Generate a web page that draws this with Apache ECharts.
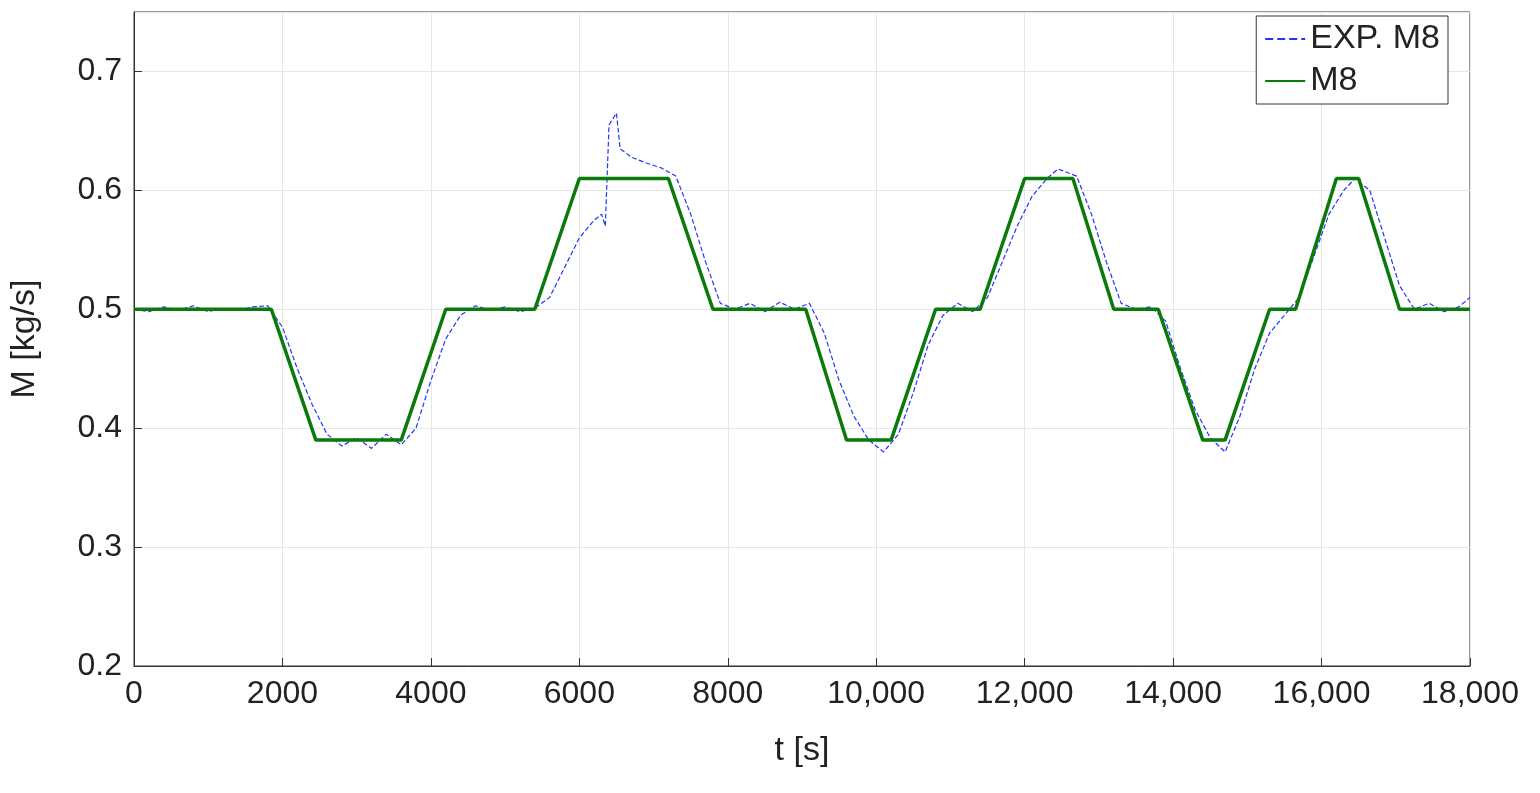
<!DOCTYPE html><html><head><meta charset="utf-8"><script src="https://cdn.jsdelivr.net/npm/echarts@6/dist/echarts.min.js"></script>
<style>body{margin:0;background:#fff}#c{width:1540px;height:793px}</style></head><body><div id="c"></div><script>
const modelT=[0,1850,2450,3600,4200,5400,6000,7200,7800,9050,9600,10200,10800,11400,12000,12650,13200,13800,14400,14700,15300,15650,16200,16500,17050,18000];
const modelM=[0.5,0.5,0.39,0.39,0.5,0.5,0.61,0.61,0.5,0.5,0.39,0.39,0.5,0.5,0.61,0.61,0.5,0.5,0.39,0.39,0.5,0.5,0.61,0.61,0.5,0.5];
const expT=[0,200,400,600,800,1000,1200,1400,1600,1800,2000,2200,2400,2600,2800,3000,3200,3400,3600,3800,4000,4200,4400,4600,4800,5000,5200,5400,5600,5800,6000,6200,6300,6350,6400,6500,6550,6700,6900,7100,7300,7500,7700,7900,8100,8300,8500,8700,8900,9100,9300,9500,9700,9900,10100,10300,10500,10700,10900,11100,11300,11500,11700,11900,12100,12300,12450,12700,12900,13100,13300,13500,13700,13900,14100,14300,14500,14700,14900,15100,15300,15500,15700,15900,16100,16300,16450,16650,16850,17050,17250,17450,17650,17850,18000];
const expM=[0.5,0.498,0.502,0.499,0.503,0.498,0.501,0.499,0.502,0.503,0.485,0.45,0.42,0.395,0.385,0.392,0.383,0.395,0.386,0.4,0.44,0.475,0.495,0.503,0.499,0.502,0.498,0.501,0.51,0.535,0.56,0.575,0.58,0.57,0.655,0.665,0.635,0.628,0.623,0.619,0.612,0.58,0.54,0.505,0.5,0.505,0.498,0.506,0.5,0.505,0.48,0.44,0.41,0.39,0.38,0.395,0.43,0.47,0.495,0.505,0.498,0.51,0.54,0.57,0.595,0.61,0.618,0.612,0.58,0.54,0.505,0.5,0.502,0.49,0.45,0.415,0.392,0.38,0.41,0.45,0.48,0.495,0.51,0.545,0.58,0.6,0.61,0.6,0.56,0.52,0.5,0.505,0.498,0.502,0.51];
const z=(a,b)=>a.map((v,i)=>[v,b[i]]);
const ch=echarts.init(document.getElementById('c'));
const ax={color:'#222',fontSize:32,fontFamily:'Liberation Sans'};
ch.setOption({animation:false,
grid:{left:133,right:70,top:12,bottom:127,show:true,borderColor:'#333',borderWidth:1},
legend:{right:92,top:16,orient:'vertical',backgroundColor:'#fff',borderColor:'#333',borderWidth:1,padding:[6,8],itemGap:8,itemWidth:40,itemStyle:{opacity:0},textStyle:{...ax,fontSize:34},
 data:['EXP. M8','M8']},
xAxis:{type:'value',min:0,max:18000,interval:2000,name:'t [s]',nameLocation:'middle',nameGap:68,nameTextStyle:{...ax,fontSize:34},
 axisLabel:{...ax,margin:12,formatter:v=>v>=10000?v.toLocaleString('en-US'):String(v)},
 axisLine:{lineStyle:{color:'#333'}},axisTick:{inside:true,length:8,lineStyle:{color:'#333'}},splitLine:{lineStyle:{color:'#e6e6e6'}}},
yAxis:{type:'value',min:0.2,max:0.75,interval:0.1,name:'M [kg/s]',nameLocation:'middle',nameGap:92,nameTextStyle:{...ax,fontSize:34},
 axisLabel:{...ax,margin:12,showMaxLabel:false,formatter:v=>v>0.72?'':v.toFixed(1)},
 axisLine:{show:true,lineStyle:{color:'#333'}},axisTick:{inside:true,length:8,lineStyle:{color:'#333'}},splitLine:{lineStyle:{color:'#e6e6e6'}}},
series:[
{name:'EXP. M8',type:'line',data:z(expT,expM),symbol:'none',lineStyle:{color:'#2233ff',width:1.2,type:'dashed'},itemStyle:{color:'#2233ff'}},
{name:'M8',type:'line',data:z(modelT,modelM),symbol:'none',lineStyle:{color:'#0a7a0a',width:3.5},itemStyle:{color:'#0a7a0a'}}
]});
</script></body></html>
